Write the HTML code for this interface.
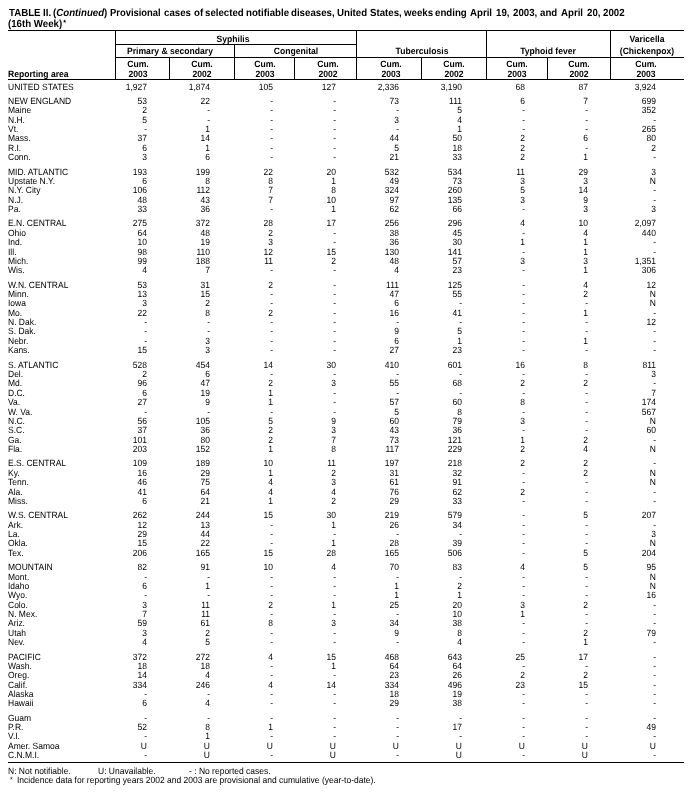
<!DOCTYPE html>
<html><head><meta charset="utf-8"><style>
#w{position:absolute;left:0;top:0;width:692px;height:793px;will-change:transform;}
html,body{margin:0;padding:0;background:#fff;}
body{width:692px;height:793px;position:relative;overflow:hidden;text-rendering:geometricPrecision;font-family:"Liberation Sans",sans-serif;color:#000;}
div{position:absolute;white-space:nowrap;}
.t{font-weight:bold;font-size:10.282px;line-height:11px;left:8px;transform:scaleX(0.9434);transform-origin:0 0;}
.h{font-weight:bold;font-size:9.116px;line-height:10px;text-align:center;transform:scaleX(0.9434);transform-origin:50% 0;}
.l{font-size:9.01px;line-height:10px;left:8px;transform:scaleX(0.9434);transform-origin:0 0;}
.d{font-size:9.01px;line-height:10px;text-align:right;width:60px;transform:scaleX(0.9434);transform-origin:100% 0;}
.hr{height:1px;background:#000;}
.vr{width:1px;background:#000;}
.f{font-size:9.01px;line-height:10px;transform:scaleX(0.9434);transform-origin:0 0;}
</style></head><body><div id="w">

<div class="t" style="top:8px;left:8.70px">TABLE</div>
<div class="t" style="top:8px;left:43.04px">II.</div>
<div class="t" style="top:8px;left:53.10px">(<i>Continued</i>)</div>
<div class="t" style="top:8px;left:109.93px;transform:scaleX(0.91510)">Provisional</div>
<div class="t" style="top:8px;left:164.13px">cases</div>
<div class="t" style="top:8px;left:193.76px">of</div>
<div class="t" style="top:8px;left:205.38px">selected</div>
<div class="t" style="top:8px;left:246.43px">notifiable</div>
<div class="t" style="top:8px;left:291.17px">diseases,</div>
<div class="t" style="top:8px;left:337.07px">United</div>
<div class="t" style="top:8px;left:369.88px">States,</div>
<div class="t" style="top:8px;left:404.33px">weeks</div>
<div class="t" style="top:8px;left:435.01px">ending</div>
<div class="t" style="top:8px;left:470.48px">April</div>
<div class="t" style="top:8px;left:495.83px">19,</div>
<div class="t" style="top:8px;left:512.68px">2003,</div>
<div class="t" style="top:8px;left:539.90px">and</div>
<div class="t" style="top:8px;left:560.66px">April</div>
<div class="t" style="top:8px;left:587.01px">20,</div>
<div class="t" style="top:8px;left:603.37px">2002</div>
<div class="t" style="top:19px">(16th Week)<span style="font-size:7.5px;position:relative;top:-2px;left:1px">*</span></div>
<div class="hr" style="top:30px;left:8px;width:676px"></div>
<div class="hr" style="top:44px;left:115px;width:242px"></div>
<div class="hr" style="top:57px;left:115px;width:569px"></div>
<div class="hr" style="top:79px;left:8px;width:676px"></div>
<div class="hr" style="top:762px;left:8px;width:676px"></div>
<div class="vr" style="left:115px;top:30px;height:50px"></div>
<div class="vr" style="left:356px;top:30px;height:50px"></div>
<div class="vr" style="left:486px;top:30px;height:50px"></div>
<div class="vr" style="left:610px;top:30px;height:50px"></div>
<div class="vr" style="left:234px;top:44px;height:36px"></div>
<div class="vr" style="left:169px;top:57px;height:23px"></div>
<div class="vr" style="left:294px;top:57px;height:23px"></div>
<div class="vr" style="left:421px;top:57px;height:23px"></div>
<div class="vr" style="left:547px;top:57px;height:23px"></div>
<div class="h" style="left:172.8px;top:34px;width:120px">Syphilis</div>
<div class="h" style="left:109.9px;top:46px;width:120px">Primary &amp; secondary</div>
<div class="h" style="left:236.0px;top:46px;width:120px">Congenital</div>
<div class="h" style="left:362.0px;top:46px;width:120px">Tuberculosis</div>
<div class="h" style="left:487.9px;top:46px;width:120px">Typhoid fever</div>
<div class="h" style="left:587.2px;top:34px;width:120px">Varicella</div>
<div class="h" style="left:586.7px;top:46px;width:120px">(Chickenpox)</div>
<div class="h" style="left:118.4px;top:59px;width:40px">Cum.</div>
<div class="h" style="left:118.4px;top:69px;width:40px">2003</div>
<div class="h" style="left:181.5px;top:59px;width:40px">Cum.</div>
<div class="h" style="left:181.5px;top:69px;width:40px">2002</div>
<div class="h" style="left:244.7px;top:59px;width:40px">Cum.</div>
<div class="h" style="left:244.7px;top:69px;width:40px">2003</div>
<div class="h" style="left:307.6px;top:59px;width:40px">Cum.</div>
<div class="h" style="left:307.6px;top:69px;width:40px">2002</div>
<div class="h" style="left:370.7px;top:59px;width:40px">Cum.</div>
<div class="h" style="left:370.7px;top:69px;width:40px">2003</div>
<div class="h" style="left:433.6px;top:59px;width:40px">Cum.</div>
<div class="h" style="left:433.6px;top:69px;width:40px">2002</div>
<div class="h" style="left:496.7px;top:59px;width:40px">Cum.</div>
<div class="h" style="left:496.7px;top:69px;width:40px">2003</div>
<div class="h" style="left:559.4px;top:59px;width:40px">Cum.</div>
<div class="h" style="left:559.4px;top:69px;width:40px">2002</div>
<div class="h" style="left:626.0px;top:59px;width:40px">Cum.</div>
<div class="h" style="left:626.0px;top:69px;width:40px">2003</div>
<div class="h" style="left:8px;top:69px;text-align:left;transform-origin:0 0">Reporting area</div>
<div class="l" style="top:82px">UNITED STATES</div>
<div class="d" style="top:82px;left:87px">1,927</div>
<div class="d" style="top:82px;left:150px">1,874</div>
<div class="d" style="top:82px;left:213px">105</div>
<div class="d" style="top:82px;left:276px">127</div>
<div class="d" style="top:82px;left:339px">2,336</div>
<div class="d" style="top:82px;left:402px">3,190</div>
<div class="d" style="top:82px;left:465px">68</div>
<div class="d" style="top:82px;left:528px">87</div>
<div class="d" style="top:82px;left:596px">3,924</div>
<div class="l" style="top:96px">NEW ENGLAND</div>
<div class="d" style="top:96px;left:87px">53</div>
<div class="d" style="top:96px;left:150px">22</div>
<div class="d" style="top:96px;left:213px">-</div>
<div class="d" style="top:96px;left:276px">-</div>
<div class="d" style="top:96px;left:339px">73</div>
<div class="d" style="top:96px;left:402px">111</div>
<div class="d" style="top:96px;left:465px">6</div>
<div class="d" style="top:96px;left:528px">7</div>
<div class="d" style="top:96px;left:596px">699</div>
<div class="l" style="top:105px">Maine</div>
<div class="d" style="top:105px;left:87px">2</div>
<div class="d" style="top:105px;left:150px">-</div>
<div class="d" style="top:105px;left:213px">-</div>
<div class="d" style="top:105px;left:276px">-</div>
<div class="d" style="top:105px;left:339px">-</div>
<div class="d" style="top:105px;left:402px">5</div>
<div class="d" style="top:105px;left:465px">-</div>
<div class="d" style="top:105px;left:528px">-</div>
<div class="d" style="top:105px;left:596px">352</div>
<div class="l" style="top:115px">N.H.</div>
<div class="d" style="top:115px;left:87px">5</div>
<div class="d" style="top:115px;left:150px">-</div>
<div class="d" style="top:115px;left:213px">-</div>
<div class="d" style="top:115px;left:276px">-</div>
<div class="d" style="top:115px;left:339px">3</div>
<div class="d" style="top:115px;left:402px">4</div>
<div class="d" style="top:115px;left:465px">-</div>
<div class="d" style="top:115px;left:528px">-</div>
<div class="d" style="top:115px;left:596px">-</div>
<div class="l" style="top:124px">Vt.</div>
<div class="d" style="top:124px;left:87px">-</div>
<div class="d" style="top:124px;left:150px">1</div>
<div class="d" style="top:124px;left:213px">-</div>
<div class="d" style="top:124px;left:276px">-</div>
<div class="d" style="top:124px;left:339px">-</div>
<div class="d" style="top:124px;left:402px">1</div>
<div class="d" style="top:124px;left:465px">-</div>
<div class="d" style="top:124px;left:528px">-</div>
<div class="d" style="top:124px;left:596px">265</div>
<div class="l" style="top:133px">Mass.</div>
<div class="d" style="top:133px;left:87px">37</div>
<div class="d" style="top:133px;left:150px">14</div>
<div class="d" style="top:133px;left:213px">-</div>
<div class="d" style="top:133px;left:276px">-</div>
<div class="d" style="top:133px;left:339px">44</div>
<div class="d" style="top:133px;left:402px">50</div>
<div class="d" style="top:133px;left:465px">2</div>
<div class="d" style="top:133px;left:528px">6</div>
<div class="d" style="top:133px;left:596px">80</div>
<div class="l" style="top:143px">R.I.</div>
<div class="d" style="top:143px;left:87px">6</div>
<div class="d" style="top:143px;left:150px">1</div>
<div class="d" style="top:143px;left:213px">-</div>
<div class="d" style="top:143px;left:276px">-</div>
<div class="d" style="top:143px;left:339px">5</div>
<div class="d" style="top:143px;left:402px">18</div>
<div class="d" style="top:143px;left:465px">2</div>
<div class="d" style="top:143px;left:528px">-</div>
<div class="d" style="top:143px;left:596px">2</div>
<div class="l" style="top:152px">Conn.</div>
<div class="d" style="top:152px;left:87px">3</div>
<div class="d" style="top:152px;left:150px">6</div>
<div class="d" style="top:152px;left:213px">-</div>
<div class="d" style="top:152px;left:276px">-</div>
<div class="d" style="top:152px;left:339px">21</div>
<div class="d" style="top:152px;left:402px">33</div>
<div class="d" style="top:152px;left:465px">2</div>
<div class="d" style="top:152px;left:528px">1</div>
<div class="d" style="top:152px;left:596px">-</div>
<div class="l" style="top:167px">MID. ATLANTIC</div>
<div class="d" style="top:167px;left:87px">193</div>
<div class="d" style="top:167px;left:150px">199</div>
<div class="d" style="top:167px;left:213px">22</div>
<div class="d" style="top:167px;left:276px">20</div>
<div class="d" style="top:167px;left:339px">532</div>
<div class="d" style="top:167px;left:402px">534</div>
<div class="d" style="top:167px;left:465px">11</div>
<div class="d" style="top:167px;left:528px">29</div>
<div class="d" style="top:167px;left:596px">3</div>
<div class="l" style="top:176px">Upstate N.Y.</div>
<div class="d" style="top:176px;left:87px">6</div>
<div class="d" style="top:176px;left:150px">8</div>
<div class="d" style="top:176px;left:213px">8</div>
<div class="d" style="top:176px;left:276px">1</div>
<div class="d" style="top:176px;left:339px">49</div>
<div class="d" style="top:176px;left:402px">73</div>
<div class="d" style="top:176px;left:465px">3</div>
<div class="d" style="top:176px;left:528px">3</div>
<div class="d" style="top:176px;left:596px">N</div>
<div class="l" style="top:185px">N.Y. City</div>
<div class="d" style="top:185px;left:87px">106</div>
<div class="d" style="top:185px;left:150px">112</div>
<div class="d" style="top:185px;left:213px">7</div>
<div class="d" style="top:185px;left:276px">8</div>
<div class="d" style="top:185px;left:339px">324</div>
<div class="d" style="top:185px;left:402px">260</div>
<div class="d" style="top:185px;left:465px">5</div>
<div class="d" style="top:185px;left:528px">14</div>
<div class="d" style="top:185px;left:596px">-</div>
<div class="l" style="top:195px">N.J.</div>
<div class="d" style="top:195px;left:87px">48</div>
<div class="d" style="top:195px;left:150px">43</div>
<div class="d" style="top:195px;left:213px">7</div>
<div class="d" style="top:195px;left:276px">10</div>
<div class="d" style="top:195px;left:339px">97</div>
<div class="d" style="top:195px;left:402px">135</div>
<div class="d" style="top:195px;left:465px">3</div>
<div class="d" style="top:195px;left:528px">9</div>
<div class="d" style="top:195px;left:596px">-</div>
<div class="l" style="top:204px">Pa.</div>
<div class="d" style="top:204px;left:87px">33</div>
<div class="d" style="top:204px;left:150px">36</div>
<div class="d" style="top:204px;left:213px">-</div>
<div class="d" style="top:204px;left:276px">1</div>
<div class="d" style="top:204px;left:339px">62</div>
<div class="d" style="top:204px;left:402px">66</div>
<div class="d" style="top:204px;left:465px">-</div>
<div class="d" style="top:204px;left:528px">3</div>
<div class="d" style="top:204px;left:596px">3</div>
<div class="l" style="top:218px">E.N. CENTRAL</div>
<div class="d" style="top:218px;left:87px">275</div>
<div class="d" style="top:218px;left:150px">372</div>
<div class="d" style="top:218px;left:213px">28</div>
<div class="d" style="top:218px;left:276px">17</div>
<div class="d" style="top:218px;left:339px">256</div>
<div class="d" style="top:218px;left:402px">296</div>
<div class="d" style="top:218px;left:465px">4</div>
<div class="d" style="top:218px;left:528px">10</div>
<div class="d" style="top:218px;left:596px">2,097</div>
<div class="l" style="top:228px">Ohio</div>
<div class="d" style="top:228px;left:87px">64</div>
<div class="d" style="top:228px;left:150px">48</div>
<div class="d" style="top:228px;left:213px">2</div>
<div class="d" style="top:228px;left:276px">-</div>
<div class="d" style="top:228px;left:339px">38</div>
<div class="d" style="top:228px;left:402px">45</div>
<div class="d" style="top:228px;left:465px">-</div>
<div class="d" style="top:228px;left:528px">4</div>
<div class="d" style="top:228px;left:596px">440</div>
<div class="l" style="top:237px">Ind.</div>
<div class="d" style="top:237px;left:87px">10</div>
<div class="d" style="top:237px;left:150px">19</div>
<div class="d" style="top:237px;left:213px">3</div>
<div class="d" style="top:237px;left:276px">-</div>
<div class="d" style="top:237px;left:339px">36</div>
<div class="d" style="top:237px;left:402px">30</div>
<div class="d" style="top:237px;left:465px">1</div>
<div class="d" style="top:237px;left:528px">1</div>
<div class="d" style="top:237px;left:596px">-</div>
<div class="l" style="top:247px">Ill.</div>
<div class="d" style="top:247px;left:87px">98</div>
<div class="d" style="top:247px;left:150px">110</div>
<div class="d" style="top:247px;left:213px">12</div>
<div class="d" style="top:247px;left:276px">15</div>
<div class="d" style="top:247px;left:339px">130</div>
<div class="d" style="top:247px;left:402px">141</div>
<div class="d" style="top:247px;left:465px">-</div>
<div class="d" style="top:247px;left:528px">1</div>
<div class="d" style="top:247px;left:596px">-</div>
<div class="l" style="top:256px">Mich.</div>
<div class="d" style="top:256px;left:87px">99</div>
<div class="d" style="top:256px;left:150px">188</div>
<div class="d" style="top:256px;left:213px">11</div>
<div class="d" style="top:256px;left:276px">2</div>
<div class="d" style="top:256px;left:339px">48</div>
<div class="d" style="top:256px;left:402px">57</div>
<div class="d" style="top:256px;left:465px">3</div>
<div class="d" style="top:256px;left:528px">3</div>
<div class="d" style="top:256px;left:596px">1,351</div>
<div class="l" style="top:265px">Wis.</div>
<div class="d" style="top:265px;left:87px">4</div>
<div class="d" style="top:265px;left:150px">7</div>
<div class="d" style="top:265px;left:213px">-</div>
<div class="d" style="top:265px;left:276px">-</div>
<div class="d" style="top:265px;left:339px">4</div>
<div class="d" style="top:265px;left:402px">23</div>
<div class="d" style="top:265px;left:465px">-</div>
<div class="d" style="top:265px;left:528px">1</div>
<div class="d" style="top:265px;left:596px">306</div>
<div class="l" style="top:280px">W.N. CENTRAL</div>
<div class="d" style="top:280px;left:87px">53</div>
<div class="d" style="top:280px;left:150px">31</div>
<div class="d" style="top:280px;left:213px">2</div>
<div class="d" style="top:280px;left:276px">-</div>
<div class="d" style="top:280px;left:339px">111</div>
<div class="d" style="top:280px;left:402px">125</div>
<div class="d" style="top:280px;left:465px">-</div>
<div class="d" style="top:280px;left:528px">4</div>
<div class="d" style="top:280px;left:596px">12</div>
<div class="l" style="top:289px">Minn.</div>
<div class="d" style="top:289px;left:87px">13</div>
<div class="d" style="top:289px;left:150px">15</div>
<div class="d" style="top:289px;left:213px">-</div>
<div class="d" style="top:289px;left:276px">-</div>
<div class="d" style="top:289px;left:339px">47</div>
<div class="d" style="top:289px;left:402px">55</div>
<div class="d" style="top:289px;left:465px">-</div>
<div class="d" style="top:289px;left:528px">2</div>
<div class="d" style="top:289px;left:596px">N</div>
<div class="l" style="top:298px">Iowa</div>
<div class="d" style="top:298px;left:87px">3</div>
<div class="d" style="top:298px;left:150px">2</div>
<div class="d" style="top:298px;left:213px">-</div>
<div class="d" style="top:298px;left:276px">-</div>
<div class="d" style="top:298px;left:339px">6</div>
<div class="d" style="top:298px;left:402px">-</div>
<div class="d" style="top:298px;left:465px">-</div>
<div class="d" style="top:298px;left:528px">-</div>
<div class="d" style="top:298px;left:596px">N</div>
<div class="l" style="top:308px">Mo.</div>
<div class="d" style="top:308px;left:87px">22</div>
<div class="d" style="top:308px;left:150px">8</div>
<div class="d" style="top:308px;left:213px">2</div>
<div class="d" style="top:308px;left:276px">-</div>
<div class="d" style="top:308px;left:339px">16</div>
<div class="d" style="top:308px;left:402px">41</div>
<div class="d" style="top:308px;left:465px">-</div>
<div class="d" style="top:308px;left:528px">1</div>
<div class="d" style="top:308px;left:596px">-</div>
<div class="l" style="top:317px">N. Dak.</div>
<div class="d" style="top:317px;left:87px">-</div>
<div class="d" style="top:317px;left:150px">-</div>
<div class="d" style="top:317px;left:213px">-</div>
<div class="d" style="top:317px;left:276px">-</div>
<div class="d" style="top:317px;left:339px">-</div>
<div class="d" style="top:317px;left:402px">-</div>
<div class="d" style="top:317px;left:465px">-</div>
<div class="d" style="top:317px;left:528px">-</div>
<div class="d" style="top:317px;left:596px">12</div>
<div class="l" style="top:326px">S. Dak.</div>
<div class="d" style="top:326px;left:87px">-</div>
<div class="d" style="top:326px;left:150px">-</div>
<div class="d" style="top:326px;left:213px">-</div>
<div class="d" style="top:326px;left:276px">-</div>
<div class="d" style="top:326px;left:339px">9</div>
<div class="d" style="top:326px;left:402px">5</div>
<div class="d" style="top:326px;left:465px">-</div>
<div class="d" style="top:326px;left:528px">-</div>
<div class="d" style="top:326px;left:596px">-</div>
<div class="l" style="top:336px">Nebr.</div>
<div class="d" style="top:336px;left:87px">-</div>
<div class="d" style="top:336px;left:150px">3</div>
<div class="d" style="top:336px;left:213px">-</div>
<div class="d" style="top:336px;left:276px">-</div>
<div class="d" style="top:336px;left:339px">6</div>
<div class="d" style="top:336px;left:402px">1</div>
<div class="d" style="top:336px;left:465px">-</div>
<div class="d" style="top:336px;left:528px">1</div>
<div class="d" style="top:336px;left:596px">-</div>
<div class="l" style="top:345px">Kans.</div>
<div class="d" style="top:345px;left:87px">15</div>
<div class="d" style="top:345px;left:150px">3</div>
<div class="d" style="top:345px;left:213px">-</div>
<div class="d" style="top:345px;left:276px">-</div>
<div class="d" style="top:345px;left:339px">27</div>
<div class="d" style="top:345px;left:402px">23</div>
<div class="d" style="top:345px;left:465px">-</div>
<div class="d" style="top:345px;left:528px">-</div>
<div class="d" style="top:345px;left:596px">-</div>
<div class="l" style="top:360px">S. ATLANTIC</div>
<div class="d" style="top:360px;left:87px">528</div>
<div class="d" style="top:360px;left:150px">454</div>
<div class="d" style="top:360px;left:213px">14</div>
<div class="d" style="top:360px;left:276px">30</div>
<div class="d" style="top:360px;left:339px">410</div>
<div class="d" style="top:360px;left:402px">601</div>
<div class="d" style="top:360px;left:465px">16</div>
<div class="d" style="top:360px;left:528px">8</div>
<div class="d" style="top:360px;left:596px">811</div>
<div class="l" style="top:369px">Del.</div>
<div class="d" style="top:369px;left:87px">2</div>
<div class="d" style="top:369px;left:150px">6</div>
<div class="d" style="top:369px;left:213px">-</div>
<div class="d" style="top:369px;left:276px">-</div>
<div class="d" style="top:369px;left:339px">-</div>
<div class="d" style="top:369px;left:402px">-</div>
<div class="d" style="top:369px;left:465px">-</div>
<div class="d" style="top:369px;left:528px">-</div>
<div class="d" style="top:369px;left:596px">3</div>
<div class="l" style="top:378px">Md.</div>
<div class="d" style="top:378px;left:87px">96</div>
<div class="d" style="top:378px;left:150px">47</div>
<div class="d" style="top:378px;left:213px">2</div>
<div class="d" style="top:378px;left:276px">3</div>
<div class="d" style="top:378px;left:339px">55</div>
<div class="d" style="top:378px;left:402px">68</div>
<div class="d" style="top:378px;left:465px">2</div>
<div class="d" style="top:378px;left:528px">2</div>
<div class="d" style="top:378px;left:596px">-</div>
<div class="l" style="top:388px">D.C.</div>
<div class="d" style="top:388px;left:87px">6</div>
<div class="d" style="top:388px;left:150px">19</div>
<div class="d" style="top:388px;left:213px">1</div>
<div class="d" style="top:388px;left:276px">-</div>
<div class="d" style="top:388px;left:339px">-</div>
<div class="d" style="top:388px;left:402px">-</div>
<div class="d" style="top:388px;left:465px">-</div>
<div class="d" style="top:388px;left:528px">-</div>
<div class="d" style="top:388px;left:596px">7</div>
<div class="l" style="top:397px">Va.</div>
<div class="d" style="top:397px;left:87px">27</div>
<div class="d" style="top:397px;left:150px">9</div>
<div class="d" style="top:397px;left:213px">1</div>
<div class="d" style="top:397px;left:276px">-</div>
<div class="d" style="top:397px;left:339px">57</div>
<div class="d" style="top:397px;left:402px">60</div>
<div class="d" style="top:397px;left:465px">8</div>
<div class="d" style="top:397px;left:528px">-</div>
<div class="d" style="top:397px;left:596px">174</div>
<div class="l" style="top:407px">W. Va.</div>
<div class="d" style="top:407px;left:87px">-</div>
<div class="d" style="top:407px;left:150px">-</div>
<div class="d" style="top:407px;left:213px">-</div>
<div class="d" style="top:407px;left:276px">-</div>
<div class="d" style="top:407px;left:339px">5</div>
<div class="d" style="top:407px;left:402px">8</div>
<div class="d" style="top:407px;left:465px">-</div>
<div class="d" style="top:407px;left:528px">-</div>
<div class="d" style="top:407px;left:596px">567</div>
<div class="l" style="top:416px">N.C.</div>
<div class="d" style="top:416px;left:87px">56</div>
<div class="d" style="top:416px;left:150px">105</div>
<div class="d" style="top:416px;left:213px">5</div>
<div class="d" style="top:416px;left:276px">9</div>
<div class="d" style="top:416px;left:339px">60</div>
<div class="d" style="top:416px;left:402px">79</div>
<div class="d" style="top:416px;left:465px">3</div>
<div class="d" style="top:416px;left:528px">-</div>
<div class="d" style="top:416px;left:596px">N</div>
<div class="l" style="top:425px">S.C.</div>
<div class="d" style="top:425px;left:87px">37</div>
<div class="d" style="top:425px;left:150px">36</div>
<div class="d" style="top:425px;left:213px">2</div>
<div class="d" style="top:425px;left:276px">3</div>
<div class="d" style="top:425px;left:339px">43</div>
<div class="d" style="top:425px;left:402px">36</div>
<div class="d" style="top:425px;left:465px">-</div>
<div class="d" style="top:425px;left:528px">-</div>
<div class="d" style="top:425px;left:596px">60</div>
<div class="l" style="top:435px">Ga.</div>
<div class="d" style="top:435px;left:87px">101</div>
<div class="d" style="top:435px;left:150px">80</div>
<div class="d" style="top:435px;left:213px">2</div>
<div class="d" style="top:435px;left:276px">7</div>
<div class="d" style="top:435px;left:339px">73</div>
<div class="d" style="top:435px;left:402px">121</div>
<div class="d" style="top:435px;left:465px">1</div>
<div class="d" style="top:435px;left:528px">2</div>
<div class="d" style="top:435px;left:596px">-</div>
<div class="l" style="top:444px">Fla.</div>
<div class="d" style="top:444px;left:87px">203</div>
<div class="d" style="top:444px;left:150px">152</div>
<div class="d" style="top:444px;left:213px">1</div>
<div class="d" style="top:444px;left:276px">8</div>
<div class="d" style="top:444px;left:339px">117</div>
<div class="d" style="top:444px;left:402px">229</div>
<div class="d" style="top:444px;left:465px">2</div>
<div class="d" style="top:444px;left:528px">4</div>
<div class="d" style="top:444px;left:596px">N</div>
<div class="l" style="top:458px">E.S. CENTRAL</div>
<div class="d" style="top:458px;left:87px">109</div>
<div class="d" style="top:458px;left:150px">189</div>
<div class="d" style="top:458px;left:213px">10</div>
<div class="d" style="top:458px;left:276px">11</div>
<div class="d" style="top:458px;left:339px">197</div>
<div class="d" style="top:458px;left:402px">218</div>
<div class="d" style="top:458px;left:465px">2</div>
<div class="d" style="top:458px;left:528px">2</div>
<div class="d" style="top:458px;left:596px">-</div>
<div class="l" style="top:468px">Ky.</div>
<div class="d" style="top:468px;left:87px">16</div>
<div class="d" style="top:468px;left:150px">29</div>
<div class="d" style="top:468px;left:213px">1</div>
<div class="d" style="top:468px;left:276px">2</div>
<div class="d" style="top:468px;left:339px">31</div>
<div class="d" style="top:468px;left:402px">32</div>
<div class="d" style="top:468px;left:465px">-</div>
<div class="d" style="top:468px;left:528px">2</div>
<div class="d" style="top:468px;left:596px">N</div>
<div class="l" style="top:477px">Tenn.</div>
<div class="d" style="top:477px;left:87px">46</div>
<div class="d" style="top:477px;left:150px">75</div>
<div class="d" style="top:477px;left:213px">4</div>
<div class="d" style="top:477px;left:276px">3</div>
<div class="d" style="top:477px;left:339px">61</div>
<div class="d" style="top:477px;left:402px">91</div>
<div class="d" style="top:477px;left:465px">-</div>
<div class="d" style="top:477px;left:528px">-</div>
<div class="d" style="top:477px;left:596px">N</div>
<div class="l" style="top:487px">Ala.</div>
<div class="d" style="top:487px;left:87px">41</div>
<div class="d" style="top:487px;left:150px">64</div>
<div class="d" style="top:487px;left:213px">4</div>
<div class="d" style="top:487px;left:276px">4</div>
<div class="d" style="top:487px;left:339px">76</div>
<div class="d" style="top:487px;left:402px">62</div>
<div class="d" style="top:487px;left:465px">2</div>
<div class="d" style="top:487px;left:528px">-</div>
<div class="d" style="top:487px;left:596px">-</div>
<div class="l" style="top:496px">Miss.</div>
<div class="d" style="top:496px;left:87px">6</div>
<div class="d" style="top:496px;left:150px">21</div>
<div class="d" style="top:496px;left:213px">1</div>
<div class="d" style="top:496px;left:276px">2</div>
<div class="d" style="top:496px;left:339px">29</div>
<div class="d" style="top:496px;left:402px">33</div>
<div class="d" style="top:496px;left:465px">-</div>
<div class="d" style="top:496px;left:528px">-</div>
<div class="d" style="top:496px;left:596px">-</div>
<div class="l" style="top:510px">W.S. CENTRAL</div>
<div class="d" style="top:510px;left:87px">262</div>
<div class="d" style="top:510px;left:150px">244</div>
<div class="d" style="top:510px;left:213px">15</div>
<div class="d" style="top:510px;left:276px">30</div>
<div class="d" style="top:510px;left:339px">219</div>
<div class="d" style="top:510px;left:402px">579</div>
<div class="d" style="top:510px;left:465px">-</div>
<div class="d" style="top:510px;left:528px">5</div>
<div class="d" style="top:510px;left:596px">207</div>
<div class="l" style="top:520px">Ark.</div>
<div class="d" style="top:520px;left:87px">12</div>
<div class="d" style="top:520px;left:150px">13</div>
<div class="d" style="top:520px;left:213px">-</div>
<div class="d" style="top:520px;left:276px">1</div>
<div class="d" style="top:520px;left:339px">26</div>
<div class="d" style="top:520px;left:402px">34</div>
<div class="d" style="top:520px;left:465px">-</div>
<div class="d" style="top:520px;left:528px">-</div>
<div class="d" style="top:520px;left:596px">-</div>
<div class="l" style="top:529px">La.</div>
<div class="d" style="top:529px;left:87px">29</div>
<div class="d" style="top:529px;left:150px">44</div>
<div class="d" style="top:529px;left:213px">-</div>
<div class="d" style="top:529px;left:276px">-</div>
<div class="d" style="top:529px;left:339px">-</div>
<div class="d" style="top:529px;left:402px">-</div>
<div class="d" style="top:529px;left:465px">-</div>
<div class="d" style="top:529px;left:528px">-</div>
<div class="d" style="top:529px;left:596px">3</div>
<div class="l" style="top:538px">Okla.</div>
<div class="d" style="top:538px;left:87px">15</div>
<div class="d" style="top:538px;left:150px">22</div>
<div class="d" style="top:538px;left:213px">-</div>
<div class="d" style="top:538px;left:276px">1</div>
<div class="d" style="top:538px;left:339px">28</div>
<div class="d" style="top:538px;left:402px">39</div>
<div class="d" style="top:538px;left:465px">-</div>
<div class="d" style="top:538px;left:528px">-</div>
<div class="d" style="top:538px;left:596px">N</div>
<div class="l" style="top:548px">Tex.</div>
<div class="d" style="top:548px;left:87px">206</div>
<div class="d" style="top:548px;left:150px">165</div>
<div class="d" style="top:548px;left:213px">15</div>
<div class="d" style="top:548px;left:276px">28</div>
<div class="d" style="top:548px;left:339px">165</div>
<div class="d" style="top:548px;left:402px">506</div>
<div class="d" style="top:548px;left:465px">-</div>
<div class="d" style="top:548px;left:528px">5</div>
<div class="d" style="top:548px;left:596px">204</div>
<div class="l" style="top:562px">MOUNTAIN</div>
<div class="d" style="top:562px;left:87px">82</div>
<div class="d" style="top:562px;left:150px">91</div>
<div class="d" style="top:562px;left:213px">10</div>
<div class="d" style="top:562px;left:276px">4</div>
<div class="d" style="top:562px;left:339px">70</div>
<div class="d" style="top:562px;left:402px">83</div>
<div class="d" style="top:562px;left:465px">4</div>
<div class="d" style="top:562px;left:528px">5</div>
<div class="d" style="top:562px;left:596px">95</div>
<div class="l" style="top:572px">Mont.</div>
<div class="d" style="top:572px;left:87px">-</div>
<div class="d" style="top:572px;left:150px">-</div>
<div class="d" style="top:572px;left:213px">-</div>
<div class="d" style="top:572px;left:276px">-</div>
<div class="d" style="top:572px;left:339px">-</div>
<div class="d" style="top:572px;left:402px">-</div>
<div class="d" style="top:572px;left:465px">-</div>
<div class="d" style="top:572px;left:528px">-</div>
<div class="d" style="top:572px;left:596px">N</div>
<div class="l" style="top:581px">Idaho</div>
<div class="d" style="top:581px;left:87px">6</div>
<div class="d" style="top:581px;left:150px">1</div>
<div class="d" style="top:581px;left:213px">-</div>
<div class="d" style="top:581px;left:276px">-</div>
<div class="d" style="top:581px;left:339px">1</div>
<div class="d" style="top:581px;left:402px">2</div>
<div class="d" style="top:581px;left:465px">-</div>
<div class="d" style="top:581px;left:528px">-</div>
<div class="d" style="top:581px;left:596px">N</div>
<div class="l" style="top:590px">Wyo.</div>
<div class="d" style="top:590px;left:87px">-</div>
<div class="d" style="top:590px;left:150px">-</div>
<div class="d" style="top:590px;left:213px">-</div>
<div class="d" style="top:590px;left:276px">-</div>
<div class="d" style="top:590px;left:339px">1</div>
<div class="d" style="top:590px;left:402px">1</div>
<div class="d" style="top:590px;left:465px">-</div>
<div class="d" style="top:590px;left:528px">-</div>
<div class="d" style="top:590px;left:596px">16</div>
<div class="l" style="top:600px">Colo.</div>
<div class="d" style="top:600px;left:87px">3</div>
<div class="d" style="top:600px;left:150px">11</div>
<div class="d" style="top:600px;left:213px">2</div>
<div class="d" style="top:600px;left:276px">1</div>
<div class="d" style="top:600px;left:339px">25</div>
<div class="d" style="top:600px;left:402px">20</div>
<div class="d" style="top:600px;left:465px">3</div>
<div class="d" style="top:600px;left:528px">2</div>
<div class="d" style="top:600px;left:596px">-</div>
<div class="l" style="top:609px">N. Mex.</div>
<div class="d" style="top:609px;left:87px">7</div>
<div class="d" style="top:609px;left:150px">11</div>
<div class="d" style="top:609px;left:213px">-</div>
<div class="d" style="top:609px;left:276px">-</div>
<div class="d" style="top:609px;left:339px">-</div>
<div class="d" style="top:609px;left:402px">10</div>
<div class="d" style="top:609px;left:465px">1</div>
<div class="d" style="top:609px;left:528px">-</div>
<div class="d" style="top:609px;left:596px">-</div>
<div class="l" style="top:618px">Ariz.</div>
<div class="d" style="top:618px;left:87px">59</div>
<div class="d" style="top:618px;left:150px">61</div>
<div class="d" style="top:618px;left:213px">8</div>
<div class="d" style="top:618px;left:276px">3</div>
<div class="d" style="top:618px;left:339px">34</div>
<div class="d" style="top:618px;left:402px">38</div>
<div class="d" style="top:618px;left:465px">-</div>
<div class="d" style="top:618px;left:528px">-</div>
<div class="d" style="top:618px;left:596px">-</div>
<div class="l" style="top:628px">Utah</div>
<div class="d" style="top:628px;left:87px">3</div>
<div class="d" style="top:628px;left:150px">2</div>
<div class="d" style="top:628px;left:213px">-</div>
<div class="d" style="top:628px;left:276px">-</div>
<div class="d" style="top:628px;left:339px">9</div>
<div class="d" style="top:628px;left:402px">8</div>
<div class="d" style="top:628px;left:465px">-</div>
<div class="d" style="top:628px;left:528px">2</div>
<div class="d" style="top:628px;left:596px">79</div>
<div class="l" style="top:637px">Nev.</div>
<div class="d" style="top:637px;left:87px">4</div>
<div class="d" style="top:637px;left:150px">5</div>
<div class="d" style="top:637px;left:213px">-</div>
<div class="d" style="top:637px;left:276px">-</div>
<div class="d" style="top:637px;left:339px">-</div>
<div class="d" style="top:637px;left:402px">4</div>
<div class="d" style="top:637px;left:465px">-</div>
<div class="d" style="top:637px;left:528px">1</div>
<div class="d" style="top:637px;left:596px">-</div>
<div class="l" style="top:652px">PACIFIC</div>
<div class="d" style="top:652px;left:87px">372</div>
<div class="d" style="top:652px;left:150px">272</div>
<div class="d" style="top:652px;left:213px">4</div>
<div class="d" style="top:652px;left:276px">15</div>
<div class="d" style="top:652px;left:339px">468</div>
<div class="d" style="top:652px;left:402px">643</div>
<div class="d" style="top:652px;left:465px">25</div>
<div class="d" style="top:652px;left:528px">17</div>
<div class="d" style="top:652px;left:596px">-</div>
<div class="l" style="top:661px">Wash.</div>
<div class="d" style="top:661px;left:87px">18</div>
<div class="d" style="top:661px;left:150px">18</div>
<div class="d" style="top:661px;left:213px">-</div>
<div class="d" style="top:661px;left:276px">1</div>
<div class="d" style="top:661px;left:339px">64</div>
<div class="d" style="top:661px;left:402px">64</div>
<div class="d" style="top:661px;left:465px">-</div>
<div class="d" style="top:661px;left:528px">-</div>
<div class="d" style="top:661px;left:596px">-</div>
<div class="l" style="top:670px">Oreg.</div>
<div class="d" style="top:670px;left:87px">14</div>
<div class="d" style="top:670px;left:150px">4</div>
<div class="d" style="top:670px;left:213px">-</div>
<div class="d" style="top:670px;left:276px">-</div>
<div class="d" style="top:670px;left:339px">23</div>
<div class="d" style="top:670px;left:402px">26</div>
<div class="d" style="top:670px;left:465px">2</div>
<div class="d" style="top:670px;left:528px">2</div>
<div class="d" style="top:670px;left:596px">-</div>
<div class="l" style="top:680px">Calif.</div>
<div class="d" style="top:680px;left:87px">334</div>
<div class="d" style="top:680px;left:150px">246</div>
<div class="d" style="top:680px;left:213px">4</div>
<div class="d" style="top:680px;left:276px">14</div>
<div class="d" style="top:680px;left:339px">334</div>
<div class="d" style="top:680px;left:402px">496</div>
<div class="d" style="top:680px;left:465px">23</div>
<div class="d" style="top:680px;left:528px">15</div>
<div class="d" style="top:680px;left:596px">-</div>
<div class="l" style="top:689px">Alaska</div>
<div class="d" style="top:689px;left:87px">-</div>
<div class="d" style="top:689px;left:150px">-</div>
<div class="d" style="top:689px;left:213px">-</div>
<div class="d" style="top:689px;left:276px">-</div>
<div class="d" style="top:689px;left:339px">18</div>
<div class="d" style="top:689px;left:402px">19</div>
<div class="d" style="top:689px;left:465px">-</div>
<div class="d" style="top:689px;left:528px">-</div>
<div class="d" style="top:689px;left:596px">-</div>
<div class="l" style="top:698px">Hawaii</div>
<div class="d" style="top:698px;left:87px">6</div>
<div class="d" style="top:698px;left:150px">4</div>
<div class="d" style="top:698px;left:213px">-</div>
<div class="d" style="top:698px;left:276px">-</div>
<div class="d" style="top:698px;left:339px">29</div>
<div class="d" style="top:698px;left:402px">38</div>
<div class="d" style="top:698px;left:465px">-</div>
<div class="d" style="top:698px;left:528px">-</div>
<div class="d" style="top:698px;left:596px">-</div>
<div class="l" style="top:713px">Guam</div>
<div class="d" style="top:713px;left:87px">-</div>
<div class="d" style="top:713px;left:150px">-</div>
<div class="d" style="top:713px;left:213px">-</div>
<div class="d" style="top:713px;left:276px">-</div>
<div class="d" style="top:713px;left:339px">-</div>
<div class="d" style="top:713px;left:402px">-</div>
<div class="d" style="top:713px;left:465px">-</div>
<div class="d" style="top:713px;left:528px">-</div>
<div class="d" style="top:713px;left:596px">-</div>
<div class="l" style="top:722px">P.R.</div>
<div class="d" style="top:722px;left:87px">52</div>
<div class="d" style="top:722px;left:150px">8</div>
<div class="d" style="top:722px;left:213px">1</div>
<div class="d" style="top:722px;left:276px">-</div>
<div class="d" style="top:722px;left:339px">-</div>
<div class="d" style="top:722px;left:402px">17</div>
<div class="d" style="top:722px;left:465px">-</div>
<div class="d" style="top:722px;left:528px">-</div>
<div class="d" style="top:722px;left:596px">49</div>
<div class="l" style="top:731px">V.I.</div>
<div class="d" style="top:731px;left:87px">-</div>
<div class="d" style="top:731px;left:150px">1</div>
<div class="d" style="top:731px;left:213px">-</div>
<div class="d" style="top:731px;left:276px">-</div>
<div class="d" style="top:731px;left:339px">-</div>
<div class="d" style="top:731px;left:402px">-</div>
<div class="d" style="top:731px;left:465px">-</div>
<div class="d" style="top:731px;left:528px">-</div>
<div class="d" style="top:731px;left:596px">-</div>
<div class="l" style="top:741px">Amer. Samoa</div>
<div class="d" style="top:741px;left:87px">U</div>
<div class="d" style="top:741px;left:150px">U</div>
<div class="d" style="top:741px;left:213px">U</div>
<div class="d" style="top:741px;left:276px">U</div>
<div class="d" style="top:741px;left:339px">U</div>
<div class="d" style="top:741px;left:402px">U</div>
<div class="d" style="top:741px;left:465px">U</div>
<div class="d" style="top:741px;left:528px">U</div>
<div class="d" style="top:741px;left:596px">U</div>
<div class="l" style="top:750px">C.N.M.I.</div>
<div class="d" style="top:750px;left:87px">-</div>
<div class="d" style="top:750px;left:150px">U</div>
<div class="d" style="top:750px;left:213px">-</div>
<div class="d" style="top:750px;left:276px">U</div>
<div class="d" style="top:750px;left:339px">-</div>
<div class="d" style="top:750px;left:402px">U</div>
<div class="d" style="top:750px;left:465px">-</div>
<div class="d" style="top:750px;left:528px">U</div>
<div class="d" style="top:750px;left:596px">-</div>
<div class="f" style="left:8px;top:765.6px">N: Not notifiable.</div>
<div class="f" style="left:98px;top:765.6px">U: Unavailable.</div>
<div class="f" style="left:189px;top:765.6px">- : No reported cases.</div>
<div class="f" style="left:10px;top:775px;font-size:7.5px">*</div>
<div class="f" style="left:17px;top:774.7px">Incidence data for reporting years 2002 and 2003 are provisional and cumulative (year-to-date).</div>
</div></body></html>
